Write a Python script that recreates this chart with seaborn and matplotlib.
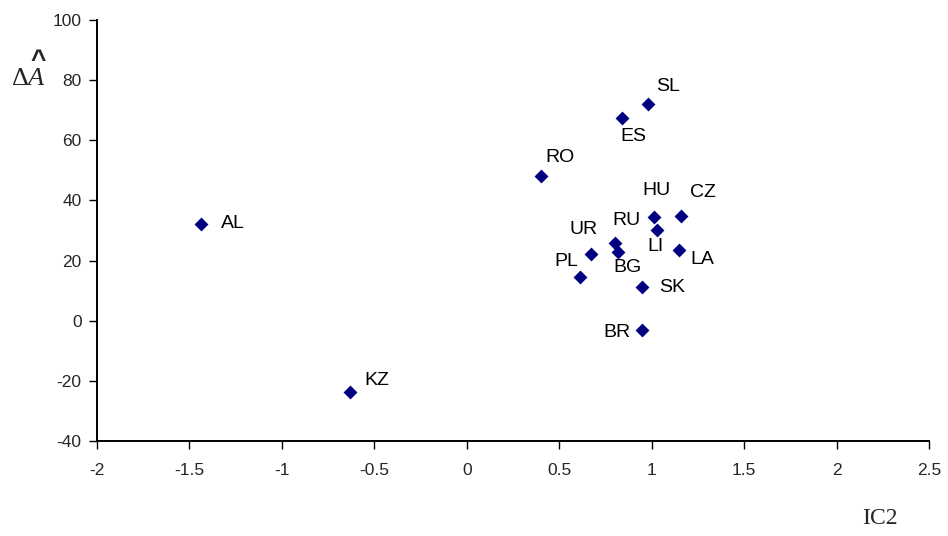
import matplotlib
matplotlib.use("Agg")
import matplotlib.pyplot as plt
import seaborn as sns
import pandas as pd

countries = ["AL", "KZ", "RO", "ES", "SL", "HU", "CZ", "LI", "RU", "BG", "UR", "PL", "LA", "SK", "BR"]
ic2 = [-1.44, -0.63, 0.40, 0.84, 0.98, 1.01, 1.16, 1.03, 0.80, 0.82, 0.67, 0.61, 1.15, 0.95, 0.95]
delta_a = [32.0, -23.7, 48.1, 67.5, 72.2, 34.4, 34.8, 30.0, 25.7, 22.8, 22.3, 14.7, 23.6, 11.3, -3.1]
# label offsets in pixels (dx right, dy down)
label_dx = [32, 27, 19, 11, 20, 3, 22, -2, 12, 9, -7, -13, 23, 30, -25]
label_dy = [-1, -11, -19, 19, -17, -27, -24, 16, -23, 15, -24, -15, 10, 1, 2]

xticks = [-2, -1.5, -1, -0.5, 0, 0.5, 1, 1.5, 2, 2.5]
xticklabels = ["-2", "-1.5", "-1", "-0.5", "0", "0.5", "1", "1.5", "2", "2.5"]
yticks = [-40, -20, 0, 20, 40, 60, 80, 100]
yticklabels = ["-40", "-20", "0", "20", "40", "60", "80", "100"]

df = pd.DataFrame({"country": countries, "IC2": ic2, "dA": delta_a})

sns.set_style("white")
plt.rcParams["font.family"] = ["Liberation Sans", "DejaVu Sans"]
plt.rcParams["axes.unicode_minus"] = False
plt.rcParams["mathtext.fontset"] = "custom"
plt.rcParams["mathtext.rm"] = "Liberation Serif"
plt.rcParams["mathtext.it"] = "Liberation Serif:italic"

fig = plt.figure(figsize=(9.48, 5.36), dpi=100)
ax = fig.add_axes([97 / 948, 1 - 441 / 536, (929 - 97) / 948, (441 - 20) / 536])

sns.scatterplot(data=df, x="IC2", y="dA", ax=ax, marker="D", s=50,
                color="#000080", edgecolor="#000080", linewidth=0, zorder=3)

for c, x, y, dx, dy in zip(countries, ic2, delta_a, label_dx, label_dy):
    ax.annotate(c, (x, y), xytext=(dx * 0.72, -dy * 0.72), textcoords="offset points",
                ha="center", va="center", fontsize=14, color="black")

ax.set_xlim(-2, 2.5)
ax.set_ylim(-40, 100)
ax.set_xticks(xticks)
ax.set_xticklabels(xticklabels)
ax.set_yticks(yticks)
ax.set_yticklabels(yticklabels)
ax.tick_params(axis="both", which="major", direction="out", length=6, width=1,
               color="black", labelsize=12.5, bottom=True, left=True)
ax.tick_params(axis="x", pad=9.5)
ax.tick_params(axis="y", pad=5)
for s in ["top", "right"]:
    ax.spines[s].set_visible(False)
for s in ["left", "bottom"]:
    ax.spines[s].set_color("black")
    ax.spines[s].set_linewidth(1.4)
ax.set_xlabel("")
ax.set_ylabel("")

fig.text(880 / 948, 1 - 519 / 536, "IC2", ha="center", va="center",
         fontsize=17, family="Liberation Serif")
fig.text(11 / 948, 1 - 85 / 536, "^\n" + r"$\Delta A$",
         ha="left", va="baseline", multialignment="right", linespacing=0.62,
         fontsize=19, family="Liberation Sans", weight="bold")

fig.savefig("out.png", dpi=100)
